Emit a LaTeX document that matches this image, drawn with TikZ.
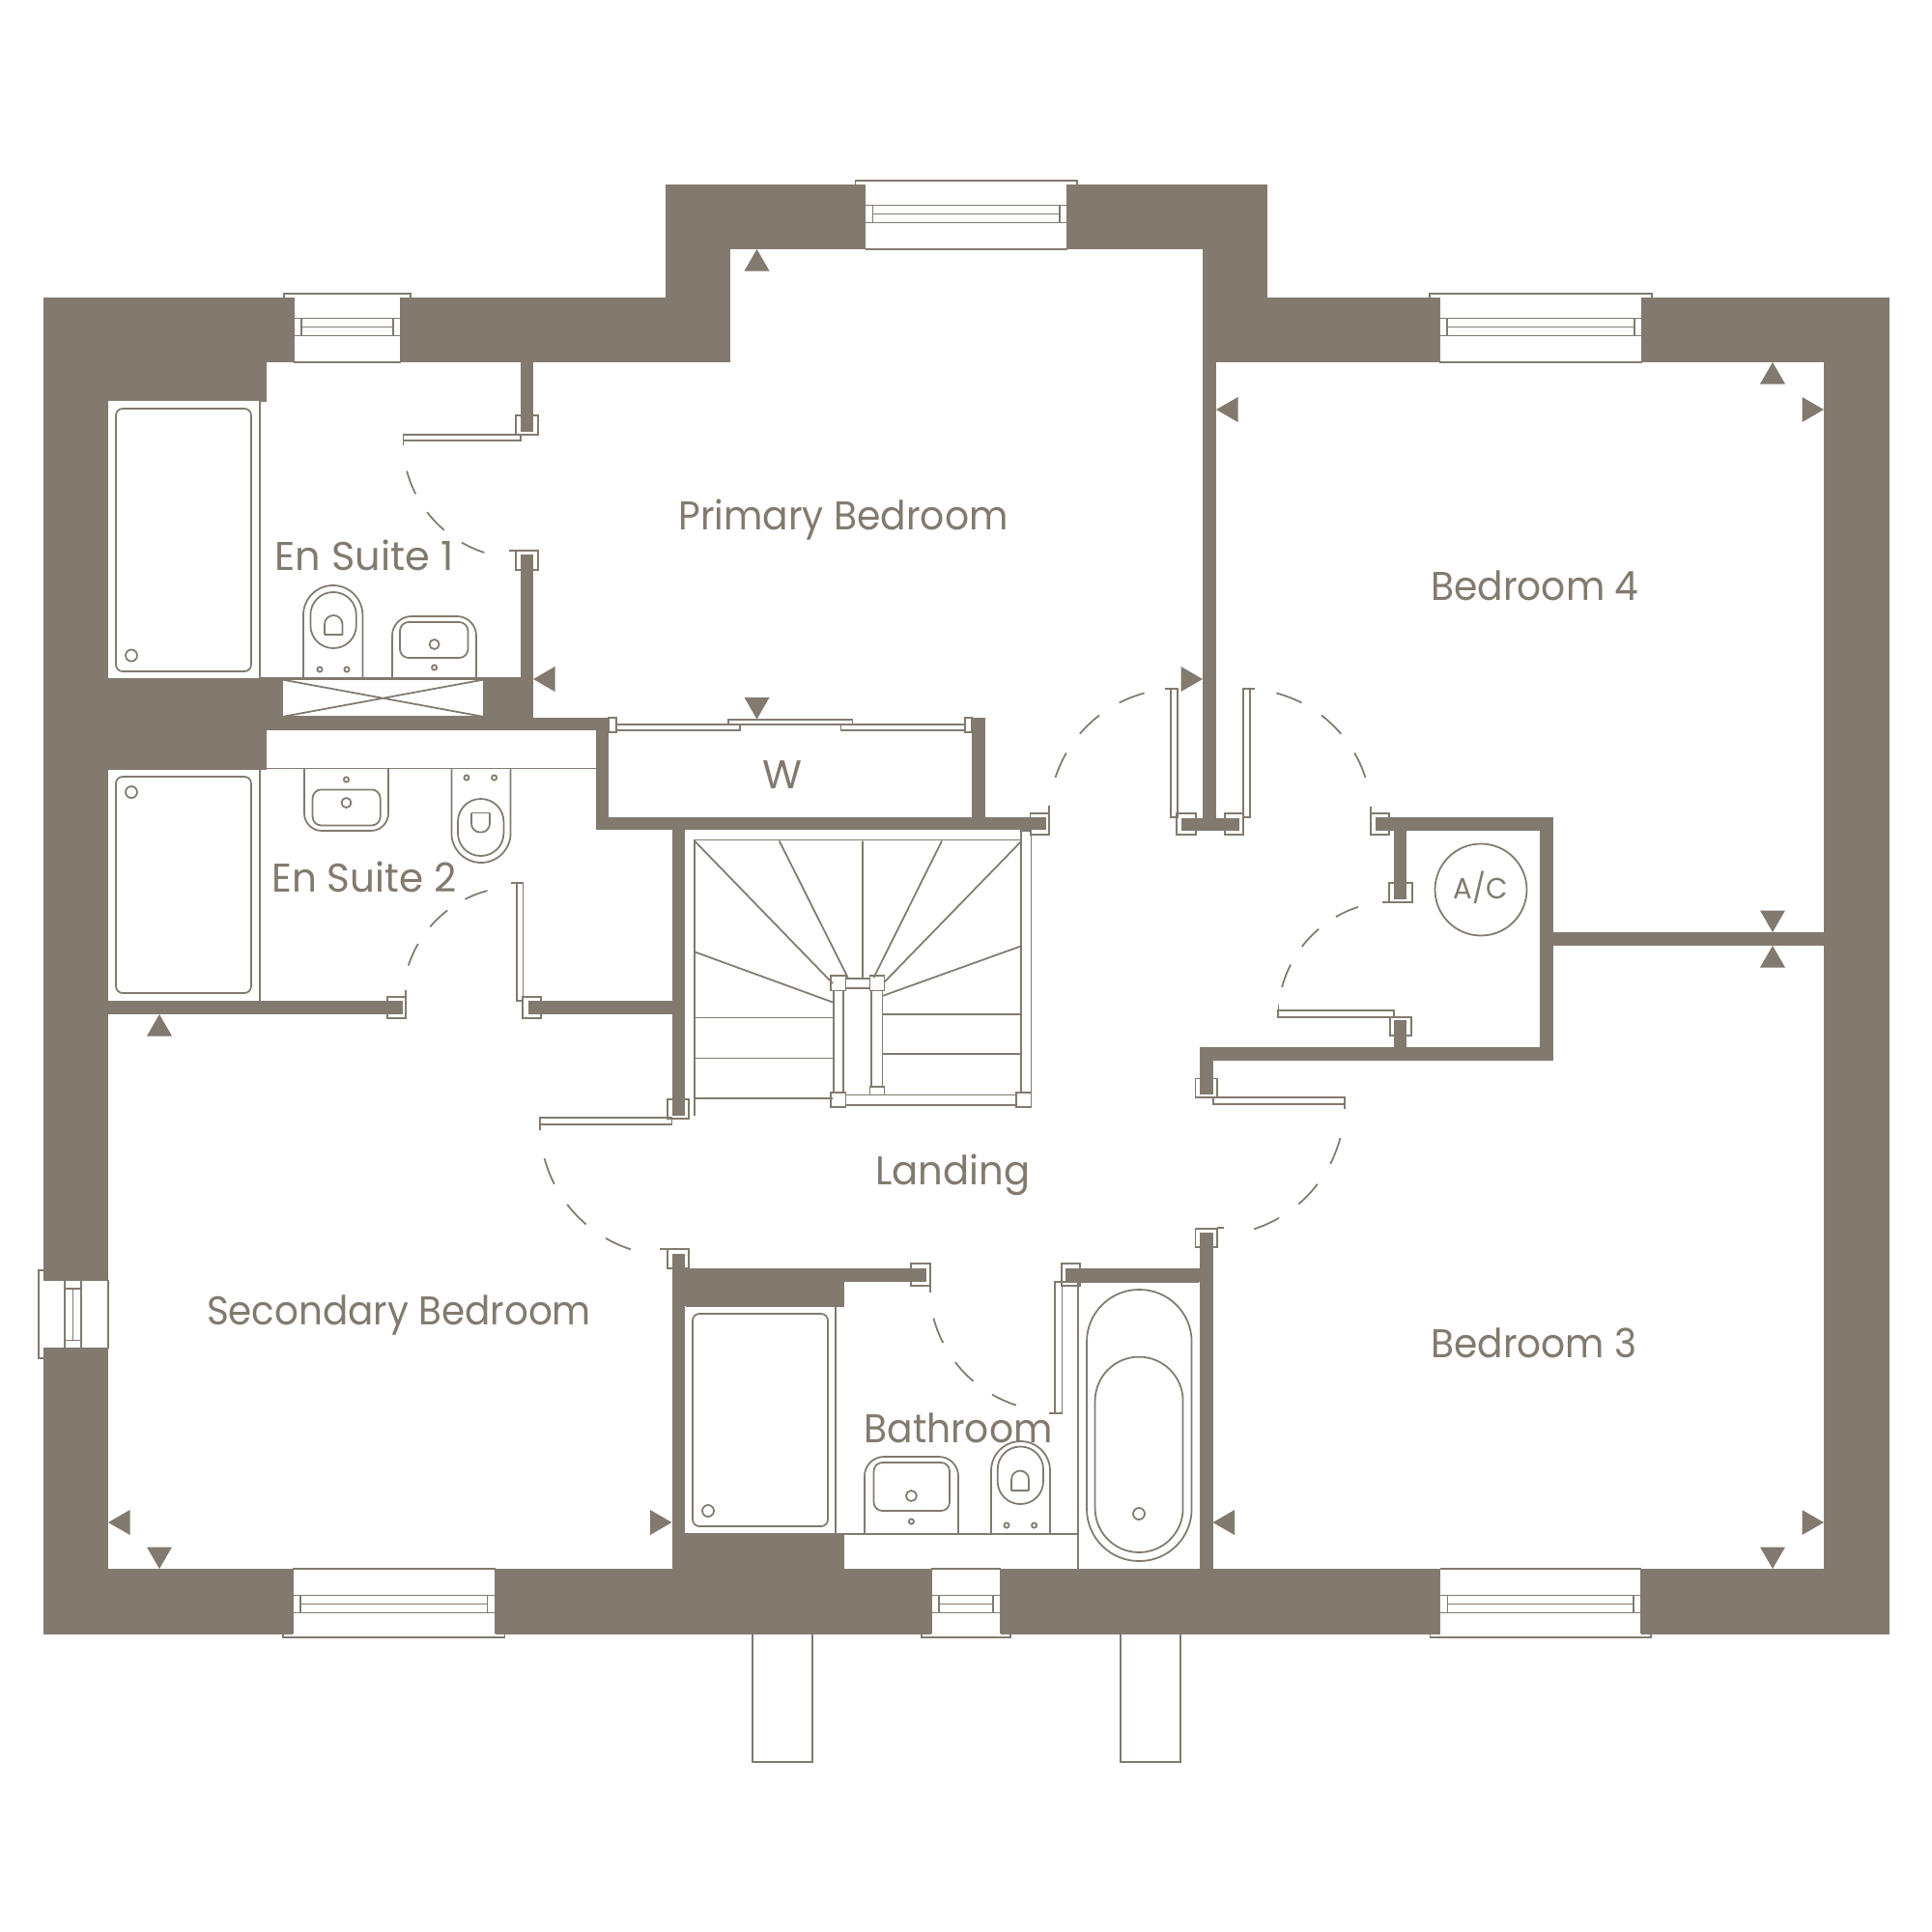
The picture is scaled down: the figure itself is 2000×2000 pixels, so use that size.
\documentclass[tikz,border=0pt]{standalone}
\usepackage{fontspec}
\usepackage{graphicx}
\setmainfont{Poppins}
\definecolor{wallc}{HTML}{827A6E}
\newlength\pxu \setlength\pxu{0.01cm}
\tikzset{
  wallfill/.style={fill=wallc,draw=none},
  thinline/.style={draw=wallc,line width=0.5pt,line join=miter},
  jambbox/.style={draw=wallc,fill=white,line width=0.5pt},
  labeltext/.style={text=wallc,inner sep=0pt,anchor=base,font=\fontsize{11.8pt}{14pt}\selectfont},
  smalllabel/.style={text=wallc,inner sep=0pt,anchor=base,font=\fontsize{8.6pt}{10pt}\selectfont}
}
% wall rectangle
\newcommand\wl[4]{\fill[wallfill] (#1,#2) rectangle (#3,#4);}
% door jamb
\newcommand\jb[4]{\draw[jambbox] (#1,#2) rectangle (#3,#4);}
% thin rectangle
\newcommand\tr[4]{\draw[thinline] (#1,#2) rectangle (#3,#4);}
% rounded thin rectangle (radius in px)
\newcommand\rr[5]{\draw[thinline,rounded corners=#5*0.28453pt] (#1,#2) rectangle (#3,#4);}
% small circle
\newcommand\cc[3]{\draw[thinline] (#1,#2) circle[radius=#3];}
% triangle: tip then the two base corners
\newcommand\tri[6]{\fill[wallfill] (#1,#2) -- (#3,#4) -- (#5,#6) -- cycle;}
\newcommand\triU[2]{\tri{#1}{#2}{#1-13}{#2+22.5}{#1+13}{#2+22.5}}
\newcommand\triD[2]{\tri{#1}{#2}{#1-13}{#2-22.5}{#1+13}{#2-22.5}}
\newcommand\triL[2]{\tri{#1}{#2}{#1+22.5}{#2-13}{#1+22.5}{#2+13}}
\newcommand\triR[2]{\tri{#1}{#2}{#1-22.5}{#2-13}{#1-22.5}{#2+13}}
% door swing: centre x, centre y, radius, start angle, sense
\newcommand\swing[5]{%
  \foreach \swt in {15,37.5,60}{%
    \pgfmathsetmacro\swa{#4+(#5)*\swt}%
    \pgfmathsetmacro\swb{#4+(#5)*(\swt+12)}%
    \pgfmathsetmacro\swlo{min(\swa,\swb)}%
    \pgfmathsetmacro\swhi{max(\swa,\swb)}%
    \draw[thinline] plot[domain=\swlo:\swhi,samples=8] ({#1+#3*cos(\x)},{#2+#3*sin(\x)});
  }}
% horizontal window: x1, x2, inner y, sense (-1 outward up, +1 outward down)
\newcommand\hwin[4]{%
  \fill[white] (#1,#3) rectangle (#2,#3+#4*71);
  \draw[thinline] (#1-10,#3+#4*67) -- (#1-10,#3+#4*71) -- (#2+10,#3+#4*71) -- (#2+10,#3+#4*67);
  \draw[thinline] (#1,#3) -- (#2,#3);
  \draw[thinline] (#1,#3) -- (#1,#3+#4*67) (#2,#3) -- (#2,#3+#4*67);
  \draw[thinline] (#1,#3+#4*27.5) rectangle (#2,#3+#4*45.5);
  \draw[thinline] (#1+8,#3+#4*36.5) -- (#2-8,#3+#4*36.5);
  \draw[thinline] (#1+8,#3+#4*27.5) -- (#1+8,#3+#4*45.5) (#2-8,#3+#4*27.5) -- (#2-8,#3+#4*45.5);
}
% label: name, centre x, baseline y, width px, text
\newcommand\lab[5]{\node[labeltext] (#1) at (#2,#3) {\resizebox{#4\pxu}{\height}{#5}};}
\begin{document}
\begin{tikzpicture}[x=0.01cm,y=-0.01cm]
\useasboundingbox (0,0) rectangle (2000,2000);
\fill[white] (0,0) rectangle (2000,2000);

% door jambs (walls stop inside them)
\jb{534}{430}{557}{450}
\jb{534}{570}{557}{590}
\jb{401}{1032}{420}{1054}
\jb{541}{1032}{560}{1054}
\jb{691}{1138}{713}{1158}
\jb{691}{1293}{713}{1313}
\jb{943}{1308}{963}{1331}
\jb{1099}{1308}{1118}{1331}
\jb{1237.5}{1116.5}{1260}{1136}
\jb{1237.5}{1272}{1260}{1291}
\jb{1066.5}{842}{1086}{864}
\jb{1218}{842}{1238}{864}
\jb{1268}{842}{1287}{864}
\jb{1419}{842}{1438}{864}
\jb{1438}{914}{1462}{934}
\jb{1439}{1053}{1461}{1072}

% outer walls
\wl{45}{308}{756}{375}
\wl{45}{308}{276}{415}
\wl{45}{308}{112}{1692}
\wl{45}{1624}{1956}{1692}
\wl{1888}{308}{1956}{1692}
\wl{1245}{308}{1956}{375}
\wl{689}{191}{756}{375}
\wl{689}{191}{1312}{258}
\wl{1245}{191}{1312}{375}
% inner walls
\wl{1245}{375}{1259}{859}
\wl{1223}{846.5}{1283}{859.5}
\wl{539}{375}{552}{447}
\wl{539}{574}{552}{743}
\wl{112}{702}{552}{743}
\wl{112}{743}{617}{756}
\wl{112}{756}{276}{796}
\wl{552}{743}{630}{756}
\wl{617}{743}{630}{859}
\wl{1006}{743}{1020}{859}
\wl{617}{846}{1083}{859}
\wl{696}{846}{709}{1155}
\wl{112}{1036}{417}{1050}
\wl{547}{1036}{709}{1050}
\wl{696}{1298}{709}{1624}
\wl{696}{1313}{959}{1327}
\wl{696}{1313}{874}{1352}
\wl{696}{1588}{874}{1624}
\wl{1103}{1313}{1255}{1327}
\wl{1242}{1276}{1255.5}{1624}
\wl{1242}{1084}{1256}{1132.5}
\wl{1242}{1084}{1608}{1098}
\wl{1424}{846}{1608}{860}
\wl{1594}{846}{1608}{1098}
\wl{1443}{860}{1456}{931}
\wl{1443}{1056}{1456}{1098}
\wl{1608}{965}{1888}{979}

% riser with cross
\fill[white] (292,703.5) rectangle (501,742);
\tr{292}{703.5}{501}{742}
\draw[thinline] (292,703.5) -- (501,742) (292,742) -- (501,703.5);

% windows
\hwin{304}{415}{375}{-1}
\hwin{895.5}{1105}{258}{-1}
\hwin{1490}{1700}{375}{-1}
\hwin{303}{512.5}{1624}{1}
\hwin{964}{1036}{1624}{1}
\hwin{1490.5}{1699}{1624}{1}
% west window
\fill[white] (41,1325) rectangle (112,1396);
\draw[thinline] (45,1315) -- (40,1315) -- (40,1406) -- (45,1406);
\draw[thinline] (112,1325) -- (112,1396) (45,1325) -- (112,1325) (45,1396) -- (112,1396);
\tr{67}{1325}{84}{1396}
\draw[thinline] (75.5,1334) -- (75.5,1387.5) (67,1334) -- (84,1334) (67,1387.5) -- (84,1387.5);

% piers
\draw[thinline] (779,1692) -- (779,1824) -- (841,1824) -- (841,1692);
\draw[thinline] (1160,1692) -- (1160,1824) -- (1222,1824) -- (1222,1692);

% door leaves
\tr{417.5}{450}{539}{456}
\draw[thinline] (417.5,450) -- (417.5,461) (527,570) -- (534,570);
\tr{1212}{713}{1219}{846}
\draw[thinline] (1206,713) -- (1212,713) (1086,833.5) -- (1086,842);
\tr{1287}{713}{1294}{846}
\draw[thinline] (1294,713) -- (1299,713) (1419,835) -- (1419,842);
\tr{535}{914}{541.5}{1036}
\draw[thinline] (529,914) -- (535,914) (420,1025) -- (420,1032);
\tr{559}{1157}{695.5}{1164}
\draw[thinline] (559,1157) -- (559,1170) (683,1293) -- (691,1293);
\tr{1092}{1327}{1099.5}{1463}
\draw[thinline] (1086,1463) -- (1092,1463) (963,1331) -- (963,1338);
\tr{1256}{1136}{1392}{1143}
\draw[thinline] (1392,1143) -- (1392,1148) (1260,1271) -- (1267,1271);
\tr{1323}{1046}{1443}{1053}
\draw[thinline] (1323.5,1040) -- (1323.5,1046) (1431,934) -- (1438,934);

% door swings
\swing{539}{456}{122}{180}{-1}
\swing{1219}{846}{133}{270}{-1}
\swing{1287}{846}{133}{270}{1}
\swing{535}{1036}{118}{270}{-1}
\swing{695}{1164}{136}{180}{-1}
\swing{1092}{1331}{130}{180}{-1}
\swing{1256}{1143}{136}{0}{1}
\swing{1443}{1053}{120}{180}{1}

% wardrobe sliding doors
\jb{630}{743}{638}{758}
\jb{999}{743}{1006}{758}
\tr{638}{750}{766}{756}
\tr{870.5}{750}{999}{756}
\tr{754}{745}{882.5}{750}

% en suite 1 fittings
\draw[thinline] (276,415) -- (269,415) -- (269,702) (269,702) -- (539,702);
\rr{120}{423}{260}{695}{7}
\cc{136}{678.5}{6}
\draw[thinline,rounded corners=30.7*0.28453pt] (314,702) -- (314,606) -- (375.4,606) -- (375.4,702);
\rr{321.4}{613}{368.8}{671}{23.5}
\draw[thinline,rounded corners=9.2*0.28453pt] (336,657) -- (336,637) -- (354.5,637) -- (354.5,657);
\draw[thinline] (336,657) -- (354.5,657);
\cc{331}{693}{2.6}
\cc{359}{693}{2.6}
\draw[thinline,rounded corners=20*0.28453pt] (406,702) -- (406,638) -- (493,638) -- (493,702);
\rr{414}{644}{484.4}{681}{9}
\cc{449.6}{667}{5}
\cc{449.6}{691}{2.6}

% en suite 2 fittings
\draw[thinline] (269,796) -- (269,1036) (276,795.5) -- (617,795.5) (112,796) -- (276,796);
\rr{120}{804}{260}{1028}{7}
\cc{136}{820}{6}
\draw[thinline,rounded corners=18*0.28453pt] (315,796) -- (315,860) -- (402,860) -- (402,796);
\rr{323.6}{817.4}{393.7}{854.5}{9}
\cc{358.5}{831}{5}
\cc{358.5}{807}{2.6}
\draw[thinline,rounded corners=30.6*0.28453pt] (467.4,796) -- (467.4,893) -- (528.6,893) -- (528.6,796);
\rr{474}{827}{521.4}{886}{23.5}
\draw[thinline,rounded corners=9*0.28453pt] (488,841.5) -- (488,861.6) -- (507,861.6) -- (507,841.5);
\draw[thinline] (488,841.5) -- (507,841.5);
\cc{483}{805}{2.6}
\cc{511.6}{805}{2.6}

% bathroom fittings
\draw[thinline] (865,1352) -- (865,1588) (709.5,1352.5) -- (874,1352.5) (709,1588) -- (1116,1588);
\rr{717}{1360}{857}{1580}{7}
\cc{733}{1564}{6}
\draw[thinline,rounded corners=20*0.28453pt] (895,1588) -- (895,1508) -- (992,1508) -- (992,1588);
\rr{904.5}{1514}{983}{1564}{9}
\cc{943.4}{1548.5}{5.5}
\cc{943.4}{1575}{2.6}
\draw[thinline,rounded corners=30.5*0.28453pt] (1026,1588) -- (1026,1492) -- (1087,1492) -- (1087,1588);
\rr{1032.7}{1497.5}{1080}{1557}{23.5}
\draw[thinline,rounded corners=9*0.28453pt] (1047,1543) -- (1047,1522.5) -- (1065,1522.5) -- (1065,1543);
\draw[thinline] (1047,1543) -- (1065,1543);
\cc{1042}{1579}{2.6}
\cc{1070.6}{1579}{2.6}
\draw[thinline] (1092,1327) -- (1116,1327) -- (1116,1624);
\draw[thinline] (1116,1327) -- (1241,1327);
\rr{1125}{1335}{1233.6}{1616}{54}
\rr{1133.6}{1404.6}{1224.6}{1607}{45.5}
\cc{1179}{1567}{6}

% staircase
\draw[thinline] (719,1155) -- (719,869.5) -- (1056.7,869.5);
\draw[thinline] (719,870.5) -- (862,1018) (806.7,870.5) -- (877.7,1012) (893,870.5) -- (893,1012)
  (975,870.5) -- (904.5,1012) (1056.7,871.4) -- (915.6,1016.5)
  (720,985.7) -- (862,1037.5) (1056.7,979.5) -- (913.4,1031);
\draw[thinline] (719,1053.6) -- (862,1053.6) (719,1095.5) -- (862,1095.5) (719,1137) -- (862,1137);
\draw[thinline] (913,1050) -- (1056.7,1050) (913,1091) -- (1056.7,1091);
\tr{1056.7}{860}{1067.4}{1131}
\tr{875.5}{1013}{900.4}{1023}
\tr{863}{1025.5}{873}{1131}
\tr{902}{1025.5}{913.4}{1125}
\tr{900.4}{1125}{915.6}{1133.5}
\tr{875.5}{1133.5}{1052}{1144}
\tr{860}{1010}{875.5}{1025.5}
\tr{900.4}{1010}{915.6}{1025.5}
\tr{860}{1131}{875.5}{1146}
\tr{1052}{1131}{1067.4}{1146}

% A/C
\node[draw=wallc,line width=0.5pt,circle,minimum size=95\pxu,inner sep=0pt] (accircle) at (1533,921) {};
\node[smalllabel] (aclabel) at (1532.5,930) {\resizebox{56\pxu}{\height}{A/C}};

% dimension triangles
\triU{783.5}{258}
\triL{552}{703}
\triD{783.5}{744.5}
\triR{1245}{703}
\triL{1259}{424}
\triU{1835}{375}
\triR{1888}{424}
\triD{1835}{965}
\triU{1835}{979}
\triL{1255.5}{1576}
\triR{1888}{1576}
\triD{1835}{1624}
\triU{165}{1050}
\triL{112}{1576}
\triD{165}{1624}
\triR{695.5}{1576}

% room labels
\lab{primary}{873}{548}{341}{Primary Bedroom}
\lab{ensuiteone}{377}{590}{185}{En Suite 1}
\lab{ensuitetwo}{377}{923}{191}{En Suite 2}
\lab{wardrobe}{810}{816}{41}{W}
\lab{bedfour}{1589}{621}{215}{Bedroom 4}
\lab{secondary}{413}{1371.5}{398}{Secondary Bedroom}
\lab{landing}{986.5}{1226}{160}{Landing}
\lab{bathroom}{992}{1493}{195}{Bathroom}
\lab{bedthree}{1588}{1405.5}{213}{Bedroom 3}
\end{tikzpicture}
\end{document}
